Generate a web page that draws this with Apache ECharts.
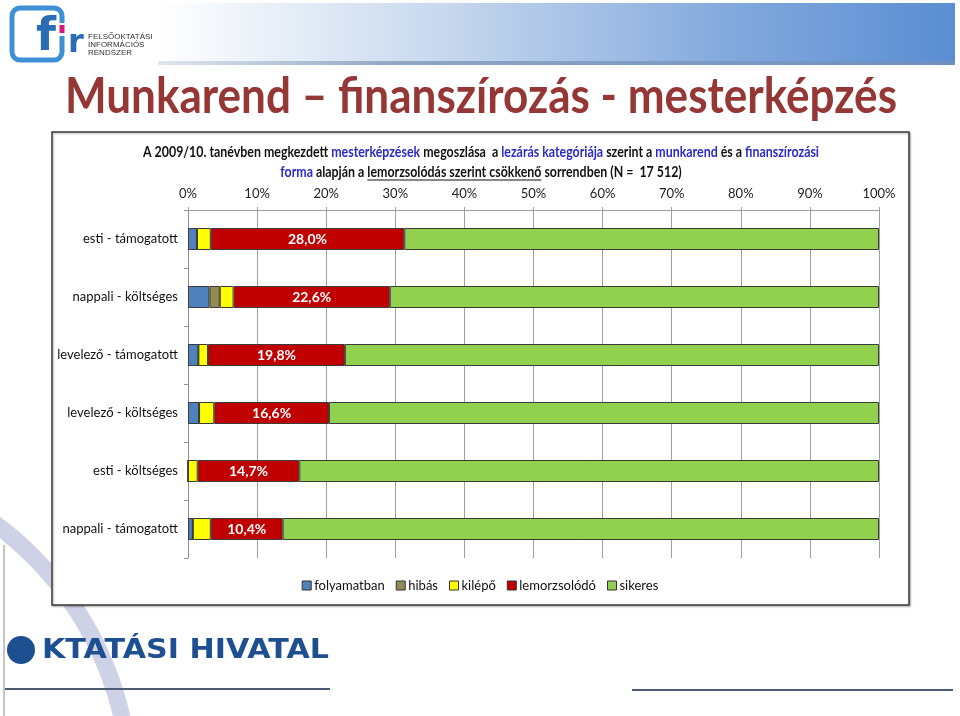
<!DOCTYPE html>
<html>
<head>
<meta charset="utf-8">
<script src="https://cdn.jsdelivr.net/npm/echarts@6/dist/echarts.min.js"></script>
<style>
html,body{margin:0;padding:0;background:#fff;}
#chart{width:960px;height:716px;}
</style>
</head>
<body>
<div id="chart"></div>
<script>
// ---- data ----
const categories = ['esti - támogatott','nappali - költséges','levelező - támogatott','levelező - költséges','esti - költséges','nappali - támogatott'];
const seriesNames = ['folyamatban','hibás','kilépő','lemorzsolódó','sikeres'];
const folyamatban = [1.3, 3.1, 1.5, 1.6, 0.0, 0.7];
const hibas       = [0.0, 1.5, 0.0, 0.0, 0.0, 0.0];
const kilepo      = [2.0, 2.0, 1.4, 2.2, 1.4, 2.6];
const lemorzsolodo= [28.0, 22.6, 19.8, 16.6, 14.7, 10.4];
const sikeres     = [68.7, 70.8, 77.3, 79.6, 83.9, 86.3];
const xTicks = [0,10,20,30,40,50,60,70,80,90,100];
const seriesColors = ['#4F81BD','#948A54','#FFFF00','#C00000','#92D050'];

const FONT = 'Lato, "Open Sans", sans-serif';
const chart = echarts.init(document.getElementById('chart'), null, {renderer:'canvas'});

// text measuring helper
const mctx = document.createElement('canvas').getContext('2d');
function measure(txt, size, weight, family){
  mctx.font = (weight||'normal') + ' ' + size + 'px ' + family;
  return mctx.measureText(txt).width;
}

const graphics = [];

// header gradient band
graphics.push({type:'rect', z:-5, shape:{x:158,y:3,width:797,height:58},
  style:{fill:new echarts.graphic.LinearGradient(0,0,1,0,[{offset:0,color:'#ffffff'},{offset:0.35,color:'#c9d9ee'},{offset:0.7,color:'#86abde'},{offset:1,color:'#5a8dd3'}])}});
graphics.push({type:'rect', z:-5, shape:{x:158,y:61,width:797,height:4},
  style:{fill:new echarts.graphic.LinearGradient(0,0,1,0,[{offset:0,color:'#dfe6ef'},{offset:0.3,color:'#8fa6c4'},{offset:1,color:'#6d8fc0'}])}});

// fir logo
graphics.push({type:'rect', z:-5, shape:{x:12,y:8,width:50,height:52,r:8}, style:{fill:null,stroke:'#3f8fd6',lineWidth:5}});
graphics.push({type:'rect', z:-4, shape:{x:57,y:23,width:9,height:13}, style:{fill:'#ffffff'}});
graphics.push({type:'rect', z:-3, shape:{x:59.5,y:25,width:5,height:8}, style:{fill:'#e0157a'}});
graphics.push({type:'text', z:-3, x:46, y:38, style:{text:'f', fontSize:46, fontWeight:'bold', fontFamily:'"DejaVu Sans"', fill:'#2a6db5', align:'center', verticalAlign:'middle'}});
graphics.push({type:'text', z:-3, x:76, y:44, style:{text:'r', fontSize:32, fontWeight:'bold', fontFamily:'"DejaVu Sans"', fill:'#2a6db5', align:'center', verticalAlign:'middle'}});
['FELSŐOKTATÁSI','INFORMÁCIÓS','RENDSZER'].forEach((t,i)=>{
  graphics.push({type:'text', z:-3, x:88, y:37+i*8, style:{text:t, fontSize:8, fontFamily:'"Liberation Sans"', fill:'#333', align:'left', verticalAlign:'middle'}});
});

// title
(function(){
  const t = 'Munkarend – finanszírozás - mesterképzés';
  const fs = 49, w = measure(t, fs, 'bold', 'Lato');
  const sx = 832 / w;
  graphics.push({type:'text', x:65, y:97, scaleX:sx, style:{text:t, fontSize:fs, fontWeight:'bold', fontFamily:'Lato', fill:'#953735', align:'left', verticalAlign:'middle'}});
})();

// chart box + decorations behind
graphics.push({type:'arc', z:-20, shape:{cx:-200, cy:790, r:330, startAngle:-Math.PI/2, endAngle:0}, style:{fill:null, stroke:'#cdd2e6', lineWidth:17}});
graphics.push({type:'line', z:-6, shape:{x1:4,y1:545,x2:4,y2:716}, style:{stroke:'#8a8a8a', lineWidth:1}});
graphics.push({type:'rect', z:-10, shape:{x:52,y:132,width:857,height:473}, style:{fill:'#ffffff', stroke:'#3c3c3c', lineWidth:1.5, shadowBlur:2, shadowColor:'rgba(0,0,0,0.3)', shadowOffsetX:1, shadowOffsetY:1}});

// subtitle
(function(){
  const BLUE = '#2a2ac8', BLK = '#111';
  const lines = [
    {y:152, segs:[['A 2009/10. tanévben megkezdett ',BLK],['mesterképzések',BLUE],[' megoszlása  a ',BLK],['lezárás kategóriája',BLUE],[' szerint a ',BLK],['munkarend',BLUE],[' és a ',BLK],['finanszírozási',BLUE]]},
    {y:172, segs:[['forma',BLUE],[' alapján a ',BLK],['lemorzsolódás szerint csökkenő',BLK,true],[' sorrendben (N =  17 512)',BLK]]}
  ];
  const fs = 14.5;
  const w1 = lines[0].segs.reduce((a,s)=>a+measure(s[0],fs,'bold','Lato'),0);
  const sx = 676 / w1;
  lines.forEach(L=>{
    const widths = L.segs.map(s=>measure(s[0],fs,'bold','Lato'));
    const W = widths.reduce((a,b)=>a+b,0)*sx;
    let x = 481 - W/2;
    L.segs.forEach((s,i)=>{
      graphics.push({type:'text', x:x, y:L.y, scaleX:sx, style:{text:s[0], fontSize:fs, fontWeight:'bold', fontFamily:'Lato', fill:s[1], align:'left', verticalAlign:'middle'}});
      if (s[2]) graphics.push({type:'line', shape:{x1:x, y1:L.y+8, x2:x+widths[i]*sx, y2:L.y+8}, style:{stroke:BLK, lineWidth:1}});
      x += widths[i]*sx;
    });
  });
})();

// bottom logo
graphics.push({type:'circle', shape:{cx:21, cy:650, r:14}, style:{fill:'#1d4f91'}});
(function(){
  const t = 'KTATÁSI HIVATAL';
  const fs = 26, w = measure(t, fs, 'bold', '"DejaVu Sans"');
  graphics.push({type:'text', x:42, y:651, scaleX:287/w, style:{text:t, fontSize:fs, fontWeight:'bold', fontFamily:'"DejaVu Sans"', fill:'#1d4f91', align:'left', verticalAlign:'middle'}});
})();
graphics.push({type:'line', shape:{x1:5,y1:689,x2:330,y2:689}, style:{stroke:'#4b5b70', lineWidth:2}});
graphics.push({type:'line', shape:{x1:632,y1:690,x2:953,y2:690}, style:{stroke:'#4b5b70', lineWidth:2}});

const valueArrays = [folyamatban, hibas, kilepo, lemorzsolodo, sikeres];
const series = seriesNames.map((name,i)=>({
  name, type:'bar', stack:'total', barWidth:22,
  data: valueArrays[i],
  itemStyle:{color:seriesColors[i], borderColor:'#3a3a3a', borderWidth:1},
  label: i===3 ? {show:true, position:'inside', color:'#fff', fontWeight:'bold', fontSize:14, fontFamily:FONT,
    formatter:p=>p.value.toFixed(1).replace('.',',')+'%'} : {show:false},
  emphasis:{disabled:true},
  animation:false
}));

chart.setOption({
  animation:false,
  textStyle:{fontFamily:FONT},
  grid:{left:188, right:81, top:210, bottom:158, containLabel:false},
  xAxis:{type:'value', position:'top', min:xTicks[0], max:xTicks[xTicks.length-1], interval:xTicks[1]-xTicks[0],
    axisLabel:{formatter:'{value}%', color:'#222', fontSize:13, margin:10, fontFamily:FONT},
    axisLine:{show:true, lineStyle:{color:'#a0a0a0'}},
    axisTick:{show:true, length:3, lineStyle:{color:'#a0a0a0'}},
    splitLine:{show:true, lineStyle:{color:'#a0a0a0'}}},
  yAxis:{type:'category', inverse:true, data:categories,
    axisLabel:{color:'#111', fontSize:13, margin:10, fontFamily:FONT},
    axisLine:{show:true, lineStyle:{color:'#909090'}},
    axisTick:{show:true, length:4, lineStyle:{color:'#909090'}}},
  legend:{data:seriesNames, top:574, left:'center', itemWidth:9, itemHeight:9, itemGap:11,
    icon:'rect', itemStyle:{borderColor:'#333', borderWidth:1},
    textStyle:{fontSize:13, color:'#111', fontFamily:FONT, padding:[0,0,0,-2]}},
  graphic:graphics,
  series
});
</script>
</body>
</html>
